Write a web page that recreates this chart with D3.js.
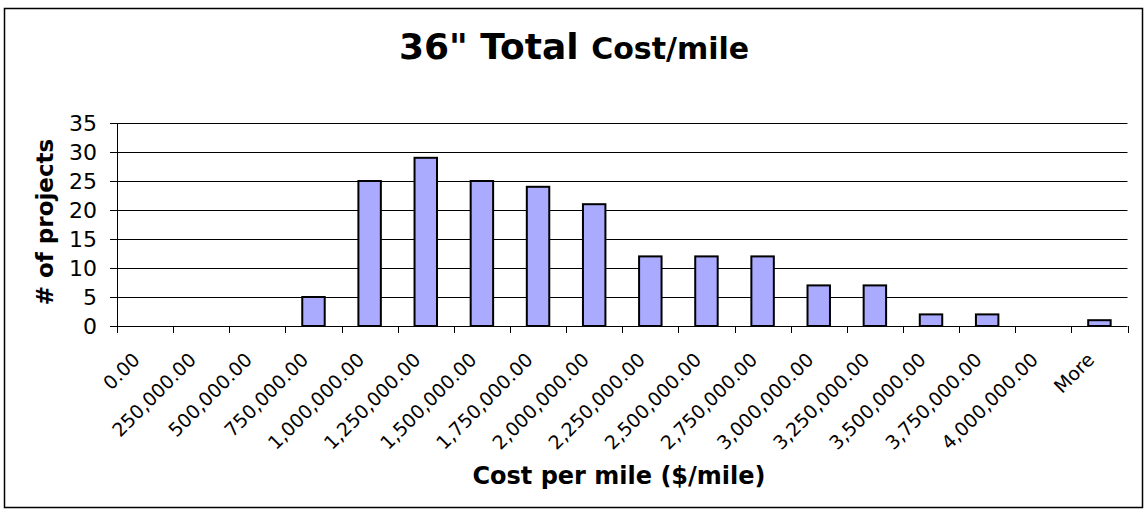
<!DOCTYPE html>
<html>
<head>
<meta charset="utf-8">
<script src="https://cdnjs.cloudflare.com/ajax/libs/d3/7.8.5/d3.min.js"></script>
<style>
html,body{margin:0;padding:0;background:#fff;}
svg{display:block;}
text{font-family:"DejaVu Sans",Verdana,sans-serif;fill:#000;}
</style>
</head>
<body>
<svg id="chart" width="1148" height="512"></svg>
<script>
const categories = ["0.00","250,000.00","500,000.00","750,000.00","1,000,000.00","1,250,000.00","1,500,000.00","1,750,000.00","2,000,000.00","2,250,000.00","2,500,000.00","2,750,000.00","3,000,000.00","3,250,000.00","3,500,000.00","3,750,000.00","4,000,000.00","More"];
const counts = [0,0,0,5,25,29,25,24,21,12,12,12,7,7,2,2,0,1];
const yTicks = [0,5,10,15,20,25,30,35];
const titleMain = "36\" Total ";
const titleSub = "Cost/mile";
const xTitle = "Cost per mile ($/mile)";
const yTitle = "# of projects";

const svg = d3.select("#chart");
const plot = {left:117, right:1127.5, top:123, bottom:326};

svg.append("rect").attr("x",4.5).attr("y",8.5).attr("width",1138).attr("height",499)
  .attr("fill","#fff").attr("stroke","#000").attr("stroke-width",1.5);

const x = d3.scaleBand().domain(categories).range([plot.left, plot.right]).paddingInner(0).paddingOuter(0);
const y = d3.scaleLinear().domain([0,35]).range([plot.bottom, plot.top]);

// gridlines + y ticks
svg.append("g").selectAll("line").data(yTicks).join("line")
  .attr("x1", plot.left-7).attr("x2", plot.right)
  .attr("y1", d=>Math.round(y(d))+0.5).attr("y2", d=>Math.round(y(d))+0.5)
  .attr("stroke","#000").attr("stroke-width",1);

// y axis line
svg.append("line").attr("x1",plot.left+0.5).attr("x2",plot.left+0.5)
  .attr("y1",plot.top).attr("y2",plot.bottom).attr("stroke","#000").attr("stroke-width",1);

// y labels
svg.append("g").selectAll("text").data(yTicks).join("text")
  .attr("x", plot.left-20).attr("y", d=>y(d)+8)
  .attr("text-anchor","end").attr("font-size",22).text(d=>d);

// x ticks at band boundaries
const bounds = categories.map(c=>x(c)).concat([plot.right]);
svg.append("g").selectAll("line").data(bounds).join("line")
  .attr("x1", d=>Math.round(d)+0.5).attr("x2", d=>Math.round(d)+0.5)
  .attr("y1", plot.bottom).attr("y2", plot.bottom+7)
  .attr("stroke","#000").attr("stroke-width",1);

// bars
const bw = x.bandwidth()/2.5;
svg.append("g").selectAll("rect").data(categories.map((c,i)=>({c, v:counts[i]})).filter(d=>d.v>0)).join("rect")
  .attr("x", d=>x(d.c)+(x.bandwidth()-bw)/2)
  .attr("y", d=>y(d.v))
  .attr("width", bw)
  .attr("height", d=>y(0)-y(d.v))
  .attr("fill","#aaaaff").attr("stroke","#000").attr("stroke-width",2);

// x labels
svg.append("g").selectAll("text").data(categories).join("text")
  .attr("transform", d=>`translate(${x(d)+x.bandwidth()/2-4},${plot.bottom+35}) rotate(-45)`)
  .attr("text-anchor","end").attr("font-size",19).text(d=>d);

// titles
const t = svg.append("text").attr("x",574).attr("y",59).attr("text-anchor","middle").attr("font-weight","bold");
t.append("tspan").attr("font-size",36).text(titleMain);
t.append("tspan").attr("font-size",30).text(titleSub);

svg.append("text").attr("x",619).attr("y",484).attr("text-anchor","middle")
  .attr("font-weight","bold").attr("font-size",24).text(xTitle);

svg.append("text").attr("transform","translate(53,222) rotate(-90)").attr("text-anchor","middle")
  .attr("font-weight","bold").attr("font-size",23).text(yTitle);
</script>
</body>
</html>
